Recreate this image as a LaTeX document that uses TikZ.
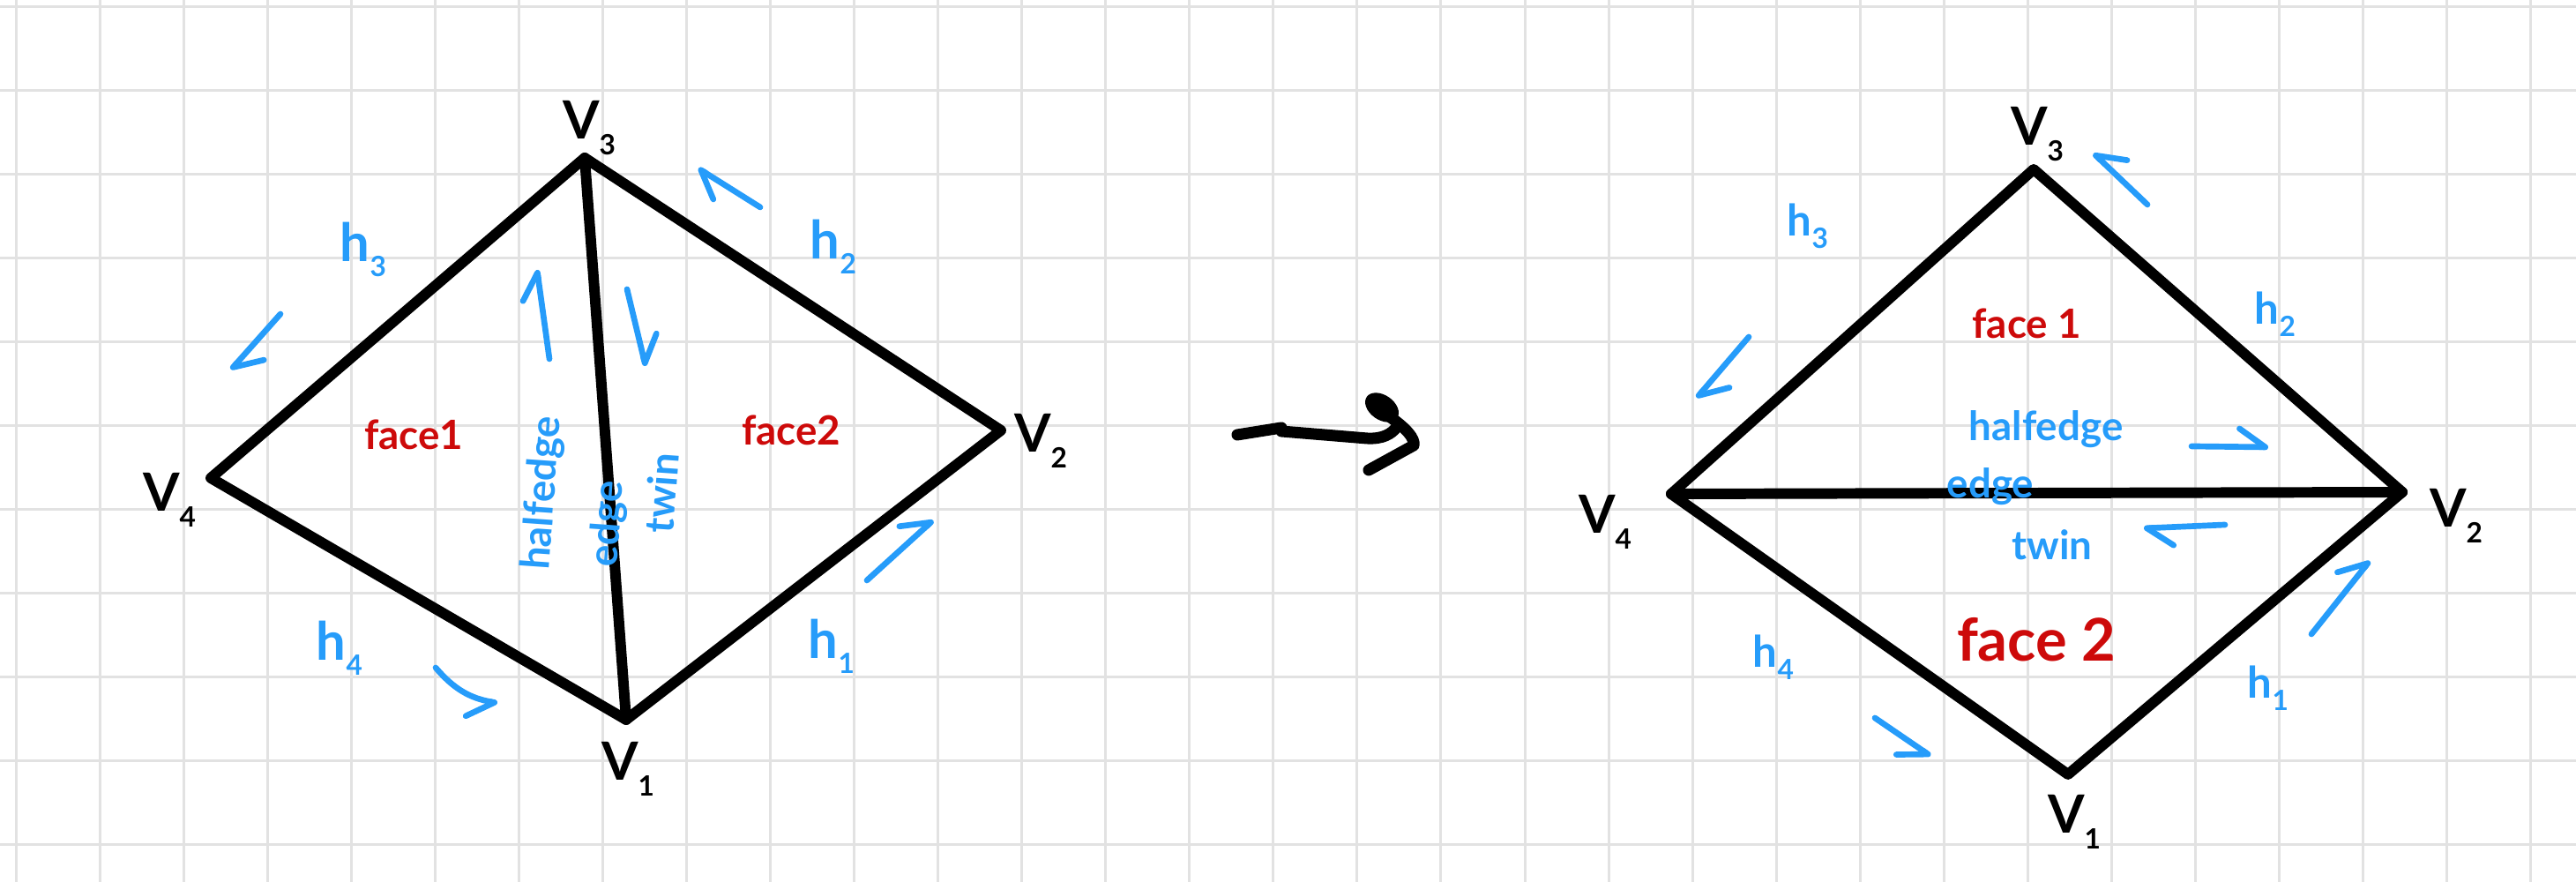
\documentclass[tikz,border=0pt]{standalone}
\usepackage{fontspec}
\setmainfont{Lato}
\usepackage{tikz}
\usetikzlibrary{arrows.meta,positioning}
\definecolor{blueink}{RGB}{38,156,250}
\definecolor{redink}{RGB}{205,10,10}
\definecolor{gridgray}{RGB}{226,226,226}
\newcommand{\vtx}[1]{V\raisebox{-0.6ex}{\small #1}}
\newcommand{\hname}[1]{h\raisebox{-0.55ex}{\small #1}}
\tikzset{
  gridline/.style={
    gridgray,
    line width=0.85pt
  },
  kante/.style={
    line width=3.4pt,
    line cap=round,
    line join=round
  },
  vlab/.style={
    font=\fontsize{17}{20}\selectfont\bfseries,
    inner sep=1pt
  },
  hlab/.style={
    blueink,
    font=\fontsize{17}{20}\selectfont\bfseries,
    inner sep=1pt
  },
  info/.style={
    blueink,
    font=\fontsize{13}{16}\selectfont\bfseries,
    inner sep=1pt
  },
  cara/.style={
    redink,
    font=\fontsize{13}{16}\selectfont\bfseries,
    inner sep=1pt
  },
  barbl/.style={
    blueink,
    line width=1.9pt,
    line cap=round,
    -{Straight Barb[harpoon,round,angle=70:3.6mm]}
  },
  barbr/.style={
    barbl,
    -{Straight Barb[harpoon,swap,round,angle=70:3.6mm]}
  },
  flecha/.style={
    line width=3.7pt,
    line cap=round,
    line join=round
  }
}

\begin{document}
\begin{tikzpicture}
\useasboundingbox (0,0) rectangle (29.21,10);
\fill[white] (0,0) rectangle (29.21,10);
% squared paper
\foreach \i in {0,...,30}
  \draw[gridline] ({0.183+0.9504*\i},0) -- ++(0,10);
\foreach \j in {0,...,10}
  \draw[gridline] (0,{9.927-0.9504*\j}) -- ++(29.21,0);

% left mesh: split by v3--v1
\coordinate (lv1) at (7.10,1.84);
\coordinate (lv2) at (11.35,5.12);
\coordinate (lv3) at (6.63,8.21);
\coordinate (lv4) at (2.39,4.58);
\draw[kante] (lv1) -- (lv2) -- (lv3) -- (lv4) -- cycle;
\draw[kante] (lv3) -- (lv1);
\node[vlab] (lv3t) at (6.68,8.55) {\vtx{3}};
\node[vlab] (lv2t) at (11.80,5.00) {\vtx{2}};
\node[vlab] (lv1t) at (7.12,1.28) {\vtx{1}};
\node[vlab] (lv4t) at (1.92,4.33) {\vtx{4}};
\node[hlab] (lh3) at (4.12,7.17) {\hname{3}};
\node[hlab] (lh2) at (9.45,7.20) {\hname{2}};
\node[hlab] (lh1) at (9.43,2.67) {\hname{1}};
\node[hlab] (lh4) at (3.85,2.65) {\hname{4}};
\node[cara] (lf1) at (4.69,5.07) {face1};
\node[cara] (lf2) at (8.97,5.12) {face2};
\node[info,rotate=86] (lhe) at (6.16,4.41) {halfedge};
\node[info,rotate=86] (led) at (6.90,4.06) {edge};
\node[info,rotate=86] (ltw) at (7.50,4.41) {twin};
% half-edge arrows
\draw[barbl] (3.18,6.44) -- (2.62,5.81);
\draw[barbl] (8.62,7.65) -- (7.92,8.09);
\draw[barbl] (6.23,5.93) -- (6.09,6.94);
\draw[barbl] (7.11,6.72) -- (7.32,5.85);
\draw[barbl] (9.83,3.42) -- (10.58,4.10);
\draw[barbr] (4.94,2.43) to[bend right=20] (5.64,2.03);

% flip arrow
\draw[flecha] (14.03,5.07) -- (14.53,5.15);
\draw[flecha] (14.53,5.11) -- (15.50,5.03) .. controls (15.68,5.02) and (15.78,5.08) .. (15.84,5.16);
\fill[rotate around={-35:(15.67,5.38)}] (15.67,5.38) ellipse [x radius=0.21,y radius=0.14];
\draw[flecha] (15.72,5.30) .. controls (15.95,5.15) and (16.05,5.02) .. (16.03,4.95) -- (15.52,4.67);

% right mesh: split by v4--v2
\coordinate (rv1) at (23.45,1.22);
\coordinate (rv2) at (27.24,4.42);
\coordinate (rv3) at (23.06,8.08);
\coordinate (rv4) at (18.95,4.40);
\draw[kante] (rv1) -- (rv2) -- (rv3) -- (rv4) -- cycle;
\draw[kante] (rv4) -- (rv2);
\node[vlab] (rv3t) at (23.10,8.48) {\vtx{3}};
\node[vlab] (rv2t) at (27.85,4.15) {\vtx{2}};
\node[vlab] (rv1t) at (23.52,0.68) {\vtx{1}};
\node[vlab] (rv4t) at (18.20,4.08) {\vtx{4}};
\node[hlab,font=\fontsize{14}{17}\selectfont\bfseries] (rh3) at (20.50,7.44) {\hname{3}};
\node[hlab,font=\fontsize{14}{17}\selectfont\bfseries] (rh2) at (25.80,6.44) {\hname{2}};
\node[hlab,font=\fontsize{14}{17}\selectfont\bfseries] (rh1) at (25.72,2.20) {\hname{1}};
\node[hlab,font=\fontsize{14}{17}\selectfont\bfseries] (rh4) at (20.11,2.55) {\hname{4}};
\node[cara] (rf1) at (22.98,6.33) {face 1};
\node[info] (rhe) at (23.20,5.13) {halfedge};
\node[info] (red) at (22.57,4.48) {edge};
\node[info] (rtw) at (23.27,3.82) {twin};
\node[cara,font=\fontsize{19}{22}\selectfont\bfseries] (rf2) at (23.09,2.75) {face 2};
% half-edge arrows
\draw[barbr] (24.35,7.68) -- (23.74,8.26);
\draw[barbl] (19.83,6.18) -- (19.24,5.49);
\draw[barbl] (24.85,4.94) -- (25.72,4.93);
\draw[barbl] (25.23,4.05) -- (24.31,4.01);
\draw[barbl] (26.21,2.81) -- (26.87,3.64);
\draw[barbr] (21.26,1.86) -- (21.89,1.43);
\end{tikzpicture}
\end{document}
